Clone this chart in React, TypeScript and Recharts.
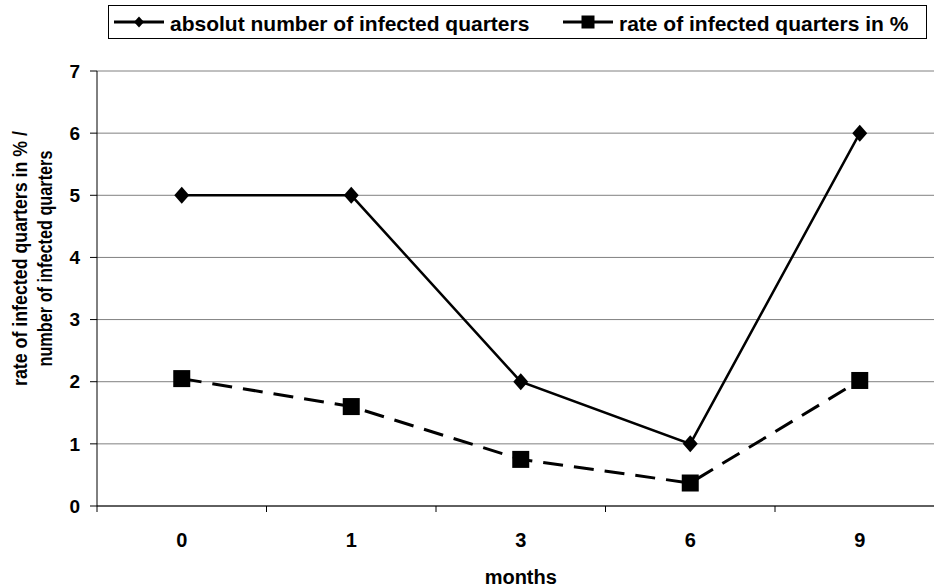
import React from 'react';
import { LineChart, Line, XAxis, YAxis, CartesianGrid, Legend, Label } from 'recharts';

// ---- data ----
const months = ['0', '1', '3', '6', '9'];
const absoluteInfected = [5, 5, 2, 1, 6];
const rateInfected = [2.05, 1.6, 0.75, 0.37, 2.02];
const yTicks = [0, 1, 2, 3, 4, 5, 6, 7];
const seriesNames = ['absolut number of infected quarters', 'rate of infected quarters in %'];
const yLabelLines = ['rate of infected quarters in % /', 'number of infected quarters'];
const xLabel = 'months';

// table built from the arrays: categories sit in the middle of each band
const data = months.map((m, i) => ({
  pos: i + 0.5,
  month: m,
  absolute: absoluteInfected[i],
  rate: rateInfected[i],
}));
// band boundaries (tick marks) and band centres (labels)
const xTicks = [0, ...months.flatMap((_, i) => [i + 0.5, i + 1])];

const FONT = "'Liberation Sans', Arial, Helvetica, sans-serif";
const X_TICK_SIZE = 6;
const X_TICK_MARGIN = 21;

const XTick = (props: any) => {
  const { x, y, payload } = props;
  const v = payload.value as number;
  if (Number.isInteger(v)) {
    return (
      <line
        x1={x}
        x2={x}
        y1={y - X_TICK_MARGIN - X_TICK_SIZE}
        y2={y - X_TICK_MARGIN}
        stroke="#000"
        strokeWidth={1}
      />
    );
  }
  return (
    <text
      x={x}
      y={y}
      dy="0.71em"
      textAnchor="middle"
      fill="#000"
      fontSize={20}
      fontWeight="bold"
      fontFamily={FONT}
    >
      {months[Math.floor(v)]}
    </text>
  );
};

const Diamond = (props: any) => {
  const { cx, cy } = props;
  if (cx == null || cy == null) return null;
  const w = 7.5;
  const h = 8.5;
  return (
    <polygon
      points={`${cx},${cy - h} ${cx + w},${cy} ${cx},${cy + h} ${cx - w},${cy}`}
      fill="#000"
      stroke="none"
    />
  );
};

const Square = (props: any) => {
  const { cx, cy } = props;
  if (cx == null || cy == null) return null;
  const s = 8.5;
  return <rect x={cx - s} y={cy - s} width={2 * s} height={2 * s} fill="#000" stroke="none" />;
};

const YLabel = (props: any) => {
  const vb = props.viewBox || { x: 0, y: 71, width: 97, height: 435 };
  const cy = vb.y + vb.height / 2 - 30;
  const cols = [vb.x + 20, vb.x + 45];
  const lens = [255, 216];
  return (
    <g>
      {yLabelLines.map((t, i) => (
        <text
          key={i}
          x={cols[i]}
          y={cy}
          dy="0.35em"
          transform={`rotate(-90 ${cols[i]} ${cy})`}
          textAnchor="middle"
          fill="#000"
          fontSize={21}
          fontWeight="bold"
          fontFamily={FONT}
          textLength={lens[i]}
          lengthAdjust="spacingAndGlyphs"
        >
          {t}
        </text>
      ))}
    </g>
  );
};

const XLabel = (props: any) => {
  const vb = props.viewBox || { x: 97, y: 506, width: 847, height: 81 };
  return (
    <text
      x={vb.x + vb.width / 2}
      y={vb.y + 78}
      textAnchor="middle"
      fill="#000"
      fontSize={20}
      fontWeight="bold"
      fontFamily={FONT}
    >
      {xLabel}
    </text>
  );
};

const LegendContent = () => {
  const entries = [
    { name: seriesNames[0], x: 114, marker: 'diamond' },
    { name: seriesNames[1], x: 563, marker: 'square' },
  ];
  const my = 22;
  return (
    <svg width={934} height={45} style={{ display: 'block' }}>
      <rect x={108.5} y={5.5} width={818} height={33} fill="#fff" stroke="#000" strokeWidth={1} />
      {entries.map((e, i) => (
        <g key={i}>
          <line x1={e.x} x2={e.x + 50} y1={my} y2={my} stroke="#000" strokeWidth={3} />
          {e.marker === 'diamond' ? (
            <polygon
              points={`${e.x + 25},${my - 5.5} ${e.x + 30},${my} ${e.x + 25},${my + 5.5} ${e.x + 20},${my}`}
              fill="#000"
            />
          ) : (
            <rect x={e.x + 25 - 6.5} y={my - 6.5} width={13} height={13} fill="#000" />
          )}
          <text
            x={e.x + 56}
            y={30.5}
            fill="#000"
            fontSize={21}
            fontWeight="bold"
            fontFamily={FONT}
          >
            {e.name}
          </text>
        </g>
      ))}
    </svg>
  );
};

export default function App() {
  return (
    <div
      style={{
        width: 934,
        height: 587,
        overflow: 'hidden',
        position: 'relative',
        background: '#fff',
      }}
    >
      <style>{'body{margin:0;overflow:hidden;}'}</style>
      <LineChart
        width={948}
        height={587}
        data={data}
        margin={{ top: 71, right: 3.5, bottom: 0, left: 0 }}
      >
        <CartesianGrid horizontal vertical={false} stroke="#808080" strokeWidth={1} />
        <XAxis
          dataKey="pos"
          type="number"
          domain={[0, 5]}
          ticks={xTicks}
          interval={0}
          height={81}
          tickLine={false}
          tickSize={X_TICK_SIZE}
          tickMargin={X_TICK_MARGIN}
          axisLine={{ stroke: '#000', strokeWidth: 1 }}
          tick={<XTick />}
        >
          <Label content={<XLabel />} />
        </XAxis>
        <YAxis
          domain={[0, 7]}
          ticks={yTicks}
          interval={0}
          width={97}
          tickSize={7}
          tickMargin={10}
          axisLine={{ stroke: '#000', strokeWidth: 1 }}
          tickLine={{ stroke: '#000', strokeWidth: 1 }}
          tick={{ fill: '#000', fontSize: 19, fontWeight: 'bold', fontFamily: FONT }}
        >
          <Label content={<YLabel />} />
        </YAxis>
        <Legend
          layout="horizontal"
          verticalAlign="middle"
          align="center"
          wrapperStyle={{ top: 0, left: 0, width: 934, height: 45 }}
          content={<LegendContent />}
        />
        <Line
          dataKey="absolute"
          name={seriesNames[0]}
          stroke="#000"
          strokeWidth={2.5}
          dot={<Diamond />}
          activeDot={false}
          isAnimationActive={false}
        />
        <Line
          dataKey="rate"
          name={seriesNames[1]}
          stroke="#000"
          strokeWidth={3}
          strokeDasharray="20 11"
          dot={<Square />}
          activeDot={false}
          isAnimationActive={false}
        />
      </LineChart>
    </div>
  );
}
